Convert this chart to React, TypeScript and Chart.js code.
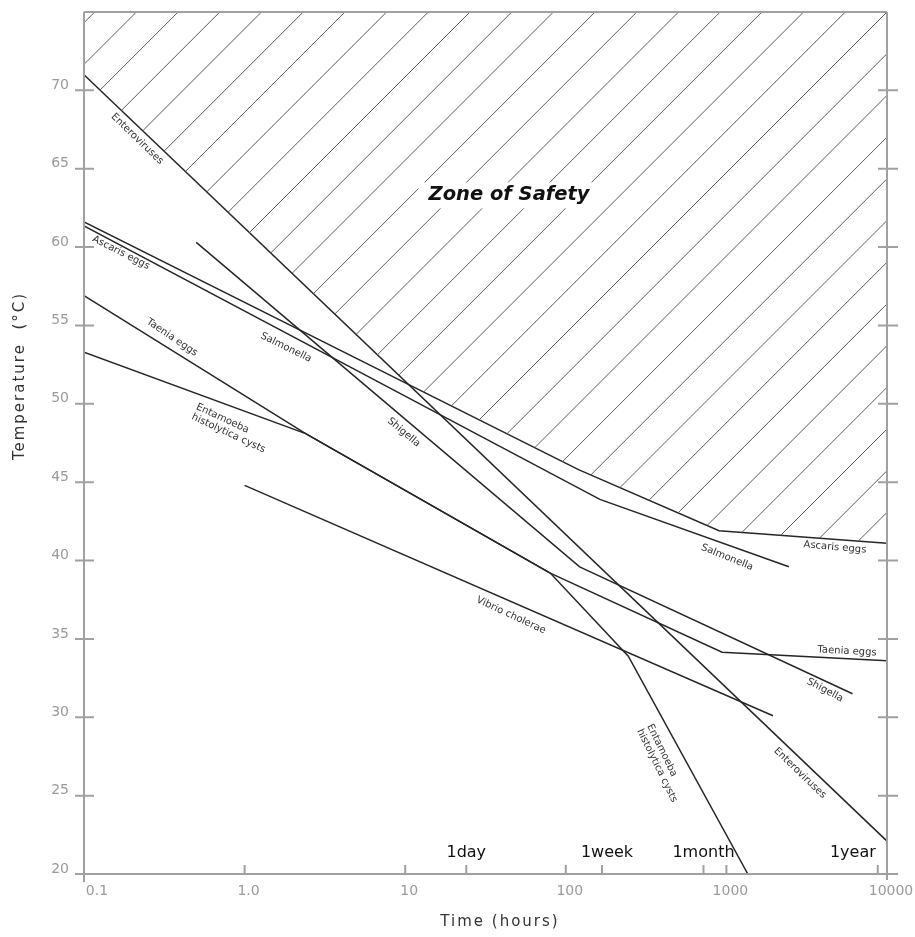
import React, { useEffect, useRef } from "react";
import { Chart, registerables } from "chart.js";

Chart.register(...registerables);

// ---------------- data (time in hours, temperature in °C) ----------------
const enterovirusHours = [0.1, 10000];
const enterovirusTemp = [71.0, 22.1];

const ascarisHours = [0.1, 120, 900, 10000];
const ascarisTemp = [61.6, 45.8, 41.9, 41.1];

const salmonellaHours = [0.1, 163, 2450];
const salmonellaTemp = [61.35, 43.9, 39.6];

const shigellaHours = [0.5, 122, 6100];
const shigellaTemp = [60.3, 39.6, 31.5];

const taeniaHours = [0.1, 2.4, 80, 940, 10000];
const taeniaTemp = [56.9, 48.1, 39.2, 34.15, 33.6];

const entamoebaHours = [0.1, 2.4, 80, 245, 1360];
const entamoebaTemp = [53.3, 48.1, 39.2, 33.9, 20];

const vibrioHours = [1, 1950];
const vibrioTemp = [44.8, 30.1];

const xTickValues = [0.1, 1, 10, 100, 1000, 10000];
const xTickLabels = ["0.1", "1.0", "10", "100", "1000", "10000"];

const timeMarkerHours = [24, 168, 720, 8760];
const timeMarkerLabels = ["1day", "1week", "1month", "1year"];

// ---------------- annotations ----------------
const timeMarkerStyle = [
  { align: "center", dx: 0 },
  { align: "center", dx: 5 },
  { align: "center", dx: 0 },
  { align: "right", dx: -2 },
];

const zoneLabel = { text: "Zone of Safety", hours: 44.3, temp: 63.3 };

const curveLabels = [
  { lines: ["Enteroviruses"], hours: 0.214, temp: 66.9, angle: 44 },
  { lines: ["Enteroviruses"], hours: 2870, temp: 26.44, angle: 44 },
  { lines: ["Ascaris eggs"], hours: 0.17, temp: 59.64, angle: 27 },
  { lines: ["Ascaris eggs"], hours: 4740, temp: 40.84, angle: 5 },
  { lines: ["Taenia eggs"], hours: 0.353, temp: 54.23, angle: 34 },
  { lines: ["Taenia eggs"], hours: 5640, temp: 34.21, angle: 3 },
  { lines: ["Salmonella"], hours: 1.81, temp: 53.59, angle: 26 },
  { lines: ["Salmonella"], hours: 1010, temp: 40.2, angle: 22 },
  { lines: ["Entamoeba", "histolytica cysts"], hours: 0.82, temp: 48.43, angle: 25 },
  { lines: ["Entamoeba", "histolytica cysts"], hours: 397, temp: 27.07, angle: 64 },
  { lines: ["Shigella"], hours: 9.8, temp: 48.17, angle: 40 },
  { lines: ["Shigella"], hours: 4110, temp: 31.73, angle: 28 },
  { lines: ["Vibrio cholerae"], hours: 45.6, temp: 36.5, angle: 25 },
];

const curves = [
  { h: enterovirusHours, t: enterovirusTemp },
  { h: ascarisHours, t: ascarisTemp },
  { h: salmonellaHours, t: salmonellaTemp },
  { h: shigellaHours, t: shigellaTemp },
  { h: taeniaHours, t: taeniaTemp },
  { h: entamoebaHours, t: entamoebaTemp },
  { h: vibrioHours, t: vibrioTemp },
];

// upper envelope of all survival curves (in log-time space) = lower edge of the zone of safety
function upperEnvelope(cs: { h: number[]; t: number[] }[]) {
  const segs: { x0: number; y0: number; x1: number; y1: number }[] = [];
  const xs: number[] = [];
  cs.forEach((c) => {
    for (let i = 0; i < c.h.length; i++) xs.push(Math.log10(c.h[i]));
    for (let i = 0; i < c.h.length - 1; i++)
      segs.push({ x0: Math.log10(c.h[i]), y0: c.t[i], x1: Math.log10(c.h[i + 1]), y1: c.t[i + 1] });
  });
  const f = (s: any, x: number) => s.y0 + ((s.y1 - s.y0) * (x - s.x0)) / (s.x1 - s.x0);
  for (let i = 0; i < segs.length; i++)
    for (let j = i + 1; j < segs.length; j++) {
      const A = segs[i], B = segs[j];
      const lo = Math.max(A.x0, B.x0), hi = Math.min(A.x1, B.x1);
      if (lo >= hi) continue;
      const d0 = f(A, lo) - f(B, lo), d1 = f(A, hi) - f(B, hi);
      if (d0 * d1 < 0) xs.push(lo + ((hi - lo) * d0) / (d0 - d1));
    }
  const valueAt = (c: { h: number[]; t: number[] }, x: number) => {
    for (let i = 0; i < c.h.length - 1; i++) {
      const x0 = Math.log10(c.h[i]), x1 = Math.log10(c.h[i + 1]);
      if (x >= x0 - 1e-9 && x <= x1 + 1e-9) {
        const r = Math.min(1, Math.max(0, (x - x0) / (x1 - x0)));
        return c.t[i] + (c.t[i + 1] - c.t[i]) * r;
      }
    }
    return null;
  };
  const sorted = xs.sort((a, b) => a - b).filter((x, i, arr) => i === 0 || x - arr[i - 1] > 1e-7);
  const out: { x: number; y: number }[] = [];
  sorted.forEach((x) => {
    let m = -Infinity;
    cs.forEach((c) => {
      const v = valueAt(c, x);
      if (v !== null && v > m) m = v;
    });
    if (m > -Infinity) out.push({ x: Math.pow(10, x), y: m });
  });
  return out;
}

const toPoints = (h: number[], t: number[]) => h.map((v, i) => ({ x: v, y: t[i] }));

const FONT = "'DejaVu Sans', Verdana, sans-serif";

const decorPlugin = {
  id: "decor",
  afterDraw(chart: any) {
    const { ctx, chartArea: a, scales } = chart;
    const xs = scales.x;
    const ys = scales.y;
    ctx.save();

    // Zone of Safety label on white
    const zx = xs.getPixelForValue(zoneLabel.hours);
    const zy = ys.getPixelForValue(zoneLabel.temp);
    ctx.font = `italic bold 19.5px ${FONT}`;
    const zw = ctx.measureText(zoneLabel.text).width;
    ctx.fillStyle = "#ffffff";
    ctx.fillRect(zx - zw / 2 - 10, zy - 13, zw + 20, 26);
    ctx.fillStyle = "#111111";
    ctx.textAlign = "center";
    ctx.textBaseline = "middle";
    ctx.fillText(zoneLabel.text, zx, zy);

    // curve labels
    ctx.font = `10px ${FONT}`;
    ctx.fillStyle = "#333333";
    curveLabels.forEach((lab) => {
      const px = xs.getPixelForValue(lab.hours);
      const py = ys.getPixelForValue(lab.temp);
      ctx.save();
      ctx.translate(px, py);
      ctx.rotate((lab.angle * Math.PI) / 180);
      const maxW = Math.max(...lab.lines.map((l) => ctx.measureText(l).width));
      ctx.textAlign = "left";
      ctx.textBaseline = "middle";
      const lh = 11;
      lab.lines.forEach((l, i) => ctx.fillText(l, -maxW / 2, (i - (lab.lines.length - 1) / 2) * lh));
      ctx.restore();
    });

    // frame, axes and crossing ticks
    ctx.strokeStyle = "#a0a0a0";
    ctx.lineWidth = 2;
    ctx.beginPath();
    ctx.moveTo(a.left, a.top);
    ctx.lineTo(a.right, a.top);
    ctx.moveTo(a.left, a.top);
    ctx.lineTo(a.left, a.bottom + 8);
    ctx.moveTo(a.right, a.top);
    ctx.lineTo(a.right, a.bottom + 6);
    ctx.moveTo(a.left - 9, a.bottom);
    ctx.lineTo(a.right + 11, a.bottom);
    ys.ticks.forEach((t: any) => {
      if (t.value > 70) return;
      const y = ys.getPixelForValue(t.value);
      ctx.moveTo(a.left - 9, y);
      ctx.lineTo(a.left + 10, y);
      ctx.moveTo(a.right - 9, y);
      ctx.lineTo(a.right + 11, y);
    });
    xTickValues.forEach((v) => {
      if (v <= 0.1 || v >= 10000) return;
      const x = xs.getPixelForValue(v);
      ctx.moveTo(x, a.bottom);
      ctx.lineTo(x, a.bottom - 9);
    });
    timeMarkerHours.forEach((v) => {
      const x = xs.getPixelForValue(v);
      ctx.moveTo(x, a.bottom);
      ctx.lineTo(x, a.bottom - 9);
    });
    ctx.stroke();

    // time marker labels
    ctx.font = `16px ${FONT}`;
    ctx.fillStyle = "#111111";
    ctx.textBaseline = "middle";
    timeMarkerHours.forEach((v, i) => {
      const st = timeMarkerStyle[i];
      ctx.textAlign = st.align;
      ctx.fillText(timeMarkerLabels[i], xs.getPixelForValue(v) + st.dx, a.bottom - 21);
    });

    // axis titles
    ctx.fillStyle = "#333333";
    ctx.font = `15px ${FONT}`;
    (ctx as any).letterSpacing = "2px";
    ctx.textAlign = "center";
    ctx.textBaseline = "middle";
    ctx.fillText("Time (hours)", 500, 922);
    ctx.save();
    ctx.translate(20, 376);
    ctx.rotate(-Math.PI / 2);
    ctx.fillText("Temperature  (°C)", 0, 0);
    ctx.restore();
    (ctx as any).letterSpacing = "0px";

    ctx.restore();
  },
};

export default function App() {
  const ref = useRef<HTMLCanvasElement>(null);

  useEffect(() => {
    const canvas = ref.current!;
    const ctx = canvas.getContext("2d")!;

    // hatch pattern for the zone of safety: 45° lines, 41.7 px apart horizontally
    const period = 41.7;
    const phase = 23.3;
    const tile = 417;
    const pc = document.createElement("canvas");
    pc.width = tile;
    pc.height = tile;
    const p = pc.getContext("2d")!;
    p.strokeStyle = "#5c5c5c";
    p.lineWidth = 1;
    p.beginPath();
    for (let k = -2; k <= 22; k++) {
      const c = phase + period * k;
      p.moveTo(c + 10, -10);
      p.lineTo(-10, c + 10);
    }
    p.stroke();
    const pattern = ctx.createPattern(pc, "repeat")!;

    Chart.defaults.font.family = FONT;

    const lineDs = (label: string, h: number[], t: number[]) => ({
      label,
      data: toPoints(h, t),
      borderColor: "#262626",
      borderWidth: 1.5,
      pointRadius: 0,
      fill: false,
      tension: 0,
    });

    const chart = new Chart(canvas, {
      type: "line",
      data: {
        datasets: [
          {
            label: "Zone of Safety",
            data: upperEnvelope(curves),
            borderWidth: 0,
            borderColor: "rgba(0,0,0,0)",
            backgroundColor: pattern as any,
            pointRadius: 0,
            fill: "end",
            tension: 0,
          },
          lineDs("Enteroviruses", enterovirusHours, enterovirusTemp),
          lineDs("Ascaris eggs", ascarisHours, ascarisTemp),
          lineDs("Salmonella", salmonellaHours, salmonellaTemp),
          lineDs("Shigella", shigellaHours, shigellaTemp),
          lineDs("Taenia eggs", taeniaHours, taeniaTemp),
          lineDs("Entamoeba histolytica cysts", entamoebaHours, entamoebaTemp),
          lineDs("Vibrio cholerae", vibrioHours, vibrioTemp),
        ],
      },
      options: {
        responsive: false,
        animation: false,
        events: [],
        layout: { padding: { left: 8, top: 12, right: 28, bottom: 0 } },
        plugins: {
          legend: { display: false },
          tooltip: { enabled: false },
        },
        scales: {
          x: {
            type: "logarithmic",
            min: 0.1,
            max: 10000,
            afterBuildTicks: (axis: any) => {
              axis.ticks = xTickValues.map((v) => ({ value: v }));
            },
            afterFit: (axis: any) => {
              axis.height = 63;
              axis.paddingLeft = 0;
              axis.paddingRight = 0;
              axis.paddingTop = 0;
              axis.paddingBottom = 0;
            },
            grid: { display: false, drawTicks: false },
            border: { display: false },
            ticks: {
              autoSkip: false,
              maxRotation: 0,
              padding: 9,
              labelOffset: 4,
              color: "#9a9a9a",
              font: { size: 14, family: FONT },
              callback: (value: any) => {
                const i = xTickValues.indexOf(Number(value));
                if (i < 0) return "";
                return i === 0 ? "    " + xTickLabels[i] : xTickLabels[i];
              },
            },
          },
          y: {
            type: "linear",
            min: 20,
            max: 75,
            afterFit: (axis: any) => {
              axis.width = 76;
              axis.paddingTop = 0;
              axis.paddingBottom = 0;
              axis.paddingLeft = 0;
              axis.paddingRight = 0;
            },
            grid: { display: false, drawTicks: false },
            border: { display: false },
            ticks: {
              stepSize: 5,
              padding: 15,
              labelOffset: -5,
              color: "#9a9a9a",
              font: { size: 14, family: FONT },
              callback: (value: any) => (Number(value) > 70 ? "" : String(value)),
            },
          },
        },
      } as any,
      plugins: [decorPlugin as any],
    });

    return () => chart.destroy();
  }, []);

  return (
    <div style={{ position: "fixed", left: 0, top: 0, width: 915, height: 937, background: "#ffffff" }}>
      <canvas ref={ref} width={915} height={937} style={{ display: "block" }} />
    </div>
  );
}
